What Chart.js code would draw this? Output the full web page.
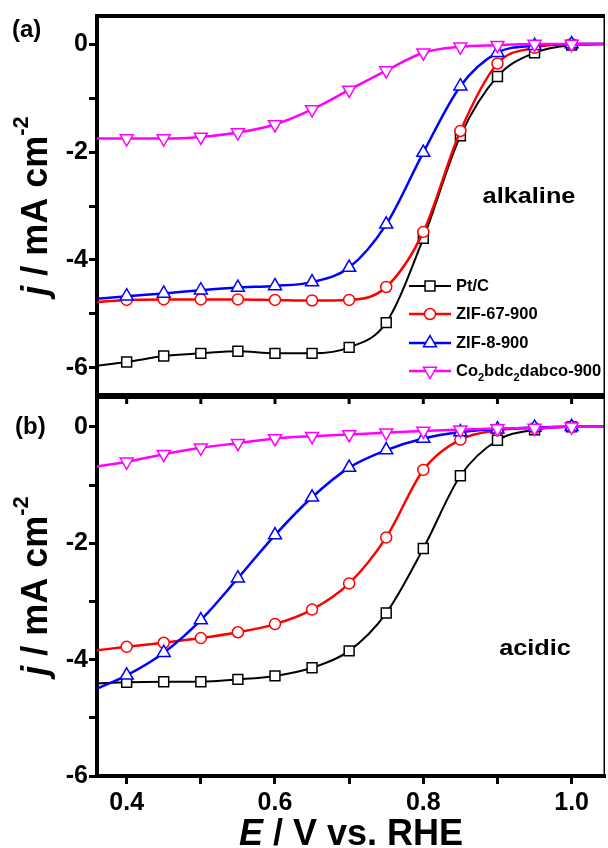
<!DOCTYPE html>
<html>
<head>
<meta charset="utf-8">
<title>ORR polarization curves</title>
<script src="https://cdn.jsdelivr.net/npm/chart.js@4.4.1/dist/chart.umd.min.js"></script>
<style>
  html, body { margin: 0; padding: 0; background: #fff; }
  #chart { display: block; }
</style>
</head>
<body>
<canvas id="chart" width="608" height="848"></canvas>
<script>
// Potentials (V vs. RHE) at which the curves were read
const potentials = [0.36, 0.40, 0.45, 0.50, 0.55, 0.60, 0.65, 0.70, 0.75, 0.80, 0.85, 0.90, 0.95, 1.00, 1.045];
const catalysts = ['Pt/C', 'ZIF-67-900', 'ZIF-8-900', 'Co2bdc2dabco-900'];

// (a) alkaline, j / mA cm-2
const ptcAlkaline   = [-5.96, -5.89, -5.78, -5.73, -5.69, -5.73, -5.73, -5.62, -5.16, -3.60, -1.70, -0.60, -0.16, -0.02, 0];
const zif67Alkaline = [-4.78, -4.74, -4.73, -4.73, -4.73, -4.74, -4.75, -4.74, -4.50, -3.48, -1.61, -0.36, -0.07, 0, 0];
const zif8Alkaline  = [-4.72, -4.67, -4.62, -4.56, -4.51, -4.48, -4.41, -4.14, -3.34, -2.01, -0.78, -0.16, -0.03, 0, 0];
const coAlkaline    = [-1.75, -1.75, -1.75, -1.72, -1.64, -1.49, -1.21, -0.85, -0.49, -0.16, -0.05, -0.02, 0, 0, 0];

// (b) acidic, j / mA cm-2
const ptcAcidic   = [-4.41, -4.39, -4.38, -4.38, -4.34, -4.28, -4.14, -3.85, -3.20, -2.09, -0.84, -0.23, -0.05, 0, 0];
const zif67Acidic = [-3.84, -3.78, -3.71, -3.63, -3.53, -3.39, -3.14, -2.69, -1.90, -0.74, -0.22, -0.06, -0.02, 0, 0];
const zif8Acidic  = [-4.50, -4.27, -3.88, -3.32, -2.60, -1.86, -1.21, -0.70, -0.40, -0.20, -0.09, -0.04, -0.01, 0, 0];
const coAcidic    = [-0.68, -0.60, -0.47, -0.36, -0.28, -0.20, -0.16, -0.13, -0.10, -0.07, -0.05, -0.03, -0.02, 0, 0];

const xTicks = [0.4, 0.5, 0.6, 0.7, 0.8, 0.9, 1.0];
const yTicks = [-6, -5, -4, -3, -2, -1, 0];

const FONT = "'Liberation Sans', Arial, sans-serif";
const colors = ['#000000', '#ff0000', '#0000ff', '#ff00ff'];
const markers = ['rect', 'circle', 'triangle', 'triangle'];
const markerRot = [0, 0, 0, 180];
const markerSize = [7, 5.5, 7.5, 7.5];
const lineWidths = [2, 2.5, 2.5, 2.5];

Chart.defaults.font.family = FONT;
Chart.defaults.color = '#000';

// markers every 0.05 V between 0.4 and 1.0
function hasMarker(i) {
    const v = potentials[i];
    return v >= 0.399 && v <= 1.001 && Math.abs(v * 20 - Math.round(v * 20)) < 1e-6;
}

function makeDataset(k, values, axis) {
    return {
        label: catalysts[k],
        yAxisID: axis,
        data: potentials.map((x, i) => ({ x: x, y: values[i] })),
        borderColor: colors[k],
        backgroundColor: '#ffffff',
        borderWidth: lineWidths[k],
        cubicInterpolationMode: 'monotone',
        pointStyle: markers[k],
        rotation: markerRot[k],
        pointRadius: (ctx) => hasMarker(ctx.dataIndex) ? markerSize[k] : 0,
        pointBorderWidth: 1.5,
        pointBackgroundColor: '#ffffff',
        pointBorderColor: colors[k],
        order: 4 - k
    };
}

const datasets = [
    makeDataset(0, ptcAlkaline, 'ya'),
    makeDataset(1, zif67Alkaline, 'ya'),
    makeDataset(2, zif8Alkaline, 'ya'),
    makeDataset(3, coAlkaline, 'ya'),
    makeDataset(0, ptcAcidic, 'yb'),
    makeDataset(1, zif67Acidic, 'yb'),
    makeDataset(2, zif8Acidic, 'yb'),
    makeDataset(3, coAcidic, 'yb')
];

function yAxis(min, max) {
    return {
        type: 'linear',
        position: 'left',
        stack: 'panels',
        stackWeight: 1,
        min: min,
        max: max,
        afterBuildTicks: (scale) => { scale.ticks = yTicks.map(v => ({ value: v })); },
        afterFit: (scale) => { scale.width = 97; },
        border: { display: true, color: '#000', width: 4 },
        grid: { drawOnChartArea: false, drawTicks: true, tickLength: 8, tickWidth: 3, color: '#000' },
        ticks: {
            padding: 1,
            font: { size: 25, weight: 'bold' },
            callback: (v) => (v % 2 === 0 ? String(v) : '')
        }
    };
}

// draw text made of runs with different fonts / vertical shifts
function drawRuns(ctx, runs, x, y) {
    let total = 0;
    runs.forEach(r => { ctx.font = r.font; r.w = ctx.measureText(r.text).width; total += r.w; });
    let cx = x - total / 2;
    ctx.textAlign = 'left';
    ctx.textBaseline = 'alphabetic';
    runs.forEach(r => {
        ctx.font = r.font;
        ctx.fillText(r.text, cx, y + (r.dy || 0));
        cx += r.w;
    });
}

// legend label with chemical subscripts (a "2" after a letter)
function drawLegendText(ctx, text, x, y) {
    const parts = text.split(/(?<=[A-Za-z])(2)/);
    let cx = x;
    ctx.textAlign = 'left';
    ctx.textBaseline = 'middle';
    parts.forEach((p, i) => {
        if (!p) return;
        const sub = (i % 2 === 1);
        ctx.font = sub ? 'bold 11px ' + FONT : 'bold 16.5px ' + FONT;
        ctx.fillText(p, cx, sub ? y + 7 : y);
        cx += ctx.measureText(p).width;
    });
}

function drawMarker(ctx, k, x, y) {
    ctx.save();
    ctx.fillStyle = '#ffffff';
    ctx.strokeStyle = colors[k];
    ctx.lineWidth = 1.5;
    Chart.helpers.drawPoint(ctx, {
        pointStyle: markers[k],
        rotation: markerRot[k],
        radius: markerSize[k],
        borderWidth: 1.5
    }, x, y);
    ctx.restore();
}

const decorations = {
    id: 'decorations',
    afterDraw(chart) {
        const ctx = chart.ctx;
        const area = chart.chartArea;
        const xs = chart.scales.x;
        const ya = chart.scales.ya;
        const yb = chart.scales.yb;
        const divY = ya.bottom;

        ctx.save();
        ctx.fillStyle = '#000';
        ctx.strokeStyle = '#000';

        // frame: top, right, divider between panels
        ctx.fillRect(area.left - 2, area.top - 2, area.right - area.left + 2, 4);
        ctx.fillRect(area.right - 1.5, area.top, 1.5, area.bottom - area.top);
        ctx.fillRect(area.left - 2, divY - 3, area.right - area.left + 2, 6);

        // ticks of panel (a) x axis, pointing into panel (b)
        ctx.lineWidth = 3;
        xTicks.forEach(v => {
            const px = xs.getPixelForValue(v);
            ctx.beginPath();
            ctx.moveTo(px, divY);
            ctx.lineTo(px, divY + 8);
            ctx.stroke();
        });

        // axis titles
        const big = 'bold 36px ' + FONT;
        const bigIt = 'italic bold 36px ' + FONT;
        [ya, yb].forEach(s => {
            ctx.save();
            ctx.translate(47, (s.top + s.bottom) / 2);
            ctx.rotate(-Math.PI / 2);
            drawRuns(ctx, [
                { text: 'j', font: bigIt },
                { text: ' / mA cm', font: big },
                { text: '-2', font: 'bold 22px ' + FONT, dy: -19 }
            ], 0, 0);
            ctx.restore();
        });
        drawRuns(ctx, [
            { text: 'E', font: bigIt },
            { text: ' / V vs. RHE', font: big }
        ], (area.left + area.right) / 2, 845);

        // panel labels
        ctx.font = 'bold 24px ' + FONT;
        ctx.textAlign = 'left';
        ctx.textBaseline = 'alphabetic';
        ctx.fillText('(a)', 12, 37);
        ctx.fillText('(b)', 15, 434);

        // electrolyte labels
        [['alkaline', 529, 203], ['acidic', 535, 655]].forEach(([t, x, y]) => {
            ctx.save();
            ctx.translate(x, y);
            ctx.scale(1.15, 1);
            ctx.font = 'bold 22px ' + FONT;
            ctx.textAlign = 'center';
            ctx.fillText(t, 0, 0);
            ctx.restore();
        });

        // legend (panel a)
        const legY = [286, 314, 343, 371];
        for (let k = 0; k < 4; k++) {
            ctx.strokeStyle = colors[k];
            ctx.lineWidth = lineWidths[k];
            ctx.beginPath();
            ctx.moveTo(409, legY[k]);
            ctx.lineTo(451, legY[k]);
            ctx.stroke();
            drawMarker(ctx, k, 430, legY[k]);
            ctx.fillStyle = '#000';
            drawLegendText(ctx, chart.data.datasets[k].label, 456, legY[k]);
        }
        ctx.restore();
    }
};

new Chart(document.getElementById('chart'), {
    type: 'line',
    data: { datasets: datasets },
    options: {
        responsive: false,
        animation: false,
        events: [],
        layout: { padding: { top: 15, right: 3, left: 0, bottom: 0 } },
        plugins: { legend: { display: false }, tooltip: { enabled: false } },
        scales: {
            x: {
                type: 'linear',
                min: 0.36,
                max: 1.045,
                afterBuildTicks: (scale) => { scale.ticks = xTicks.map(v => ({ value: v })); },
                afterFit: (scale) => { scale.height = 72; },
                border: { display: true, color: '#000', width: 4 },
                grid: { drawOnChartArea: false, drawTicks: true, tickLength: 8, tickWidth: 3, color: '#000' },
                ticks: {
                    padding: 4,
                    maxRotation: 0,
                    font: { size: 25, weight: 'bold' },
                    callback: (v) => (Math.round(v * 10) % 2 === 0 ? v.toFixed(1) : '')
                }
            },
            // defined bottom panel first: the later stacked axis is placed on top
            yb: yAxis(-6, 0.53),
            ya: yAxis(-6.52, 0.52)
        }
    },
    plugins: [decorations]
});
</script>
</body>
</html>
